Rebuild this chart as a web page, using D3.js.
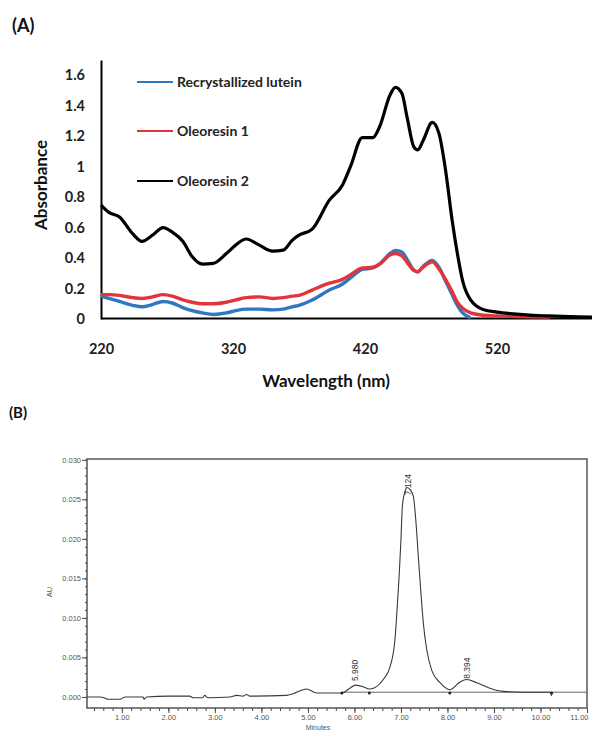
<!DOCTYPE html>
<html><head><meta charset="utf-8">
<script src="https://cdn.jsdelivr.net/npm/d3@7/dist/d3.min.js"></script>
<style>html,body{margin:0;padding:0;background:#fff;}svg{display:block;}</style>
</head><body>
<svg id="c" width="592" height="731"></svg>
<script>
// ---------- Panel A data ----------
const wavelengths = [220,226,234,244,251,259,267,274,282,289,297,305,315,322,330,340,350,358,365,370,380,393,403,409,418,426,431,439,443,448,452,457,460,464,471,476,481,486,490,494,500,510,520,530,545,560,575,592];
const oleoresin2 = [0.748,0.70,0.67,0.56,0.51,0.55,0.60,0.57,0.51,0.41,0.36,0.365,0.43,0.485,0.525,0.485,0.446,0.452,0.518,0.55,0.59,0.78,0.88,1.0,1.19,1.19,1.26,1.47,1.52,1.48,1.32,1.13,1.11,1.17,1.29,1.22,0.98,0.65,0.43,0.25,0.125,0.06,0.045,0.035,0.025,0.02,0.015,0.012];
const oleoresin1 = [0.16,0.16,0.155,0.14,0.135,0.145,0.16,0.15,0.125,0.11,0.10,0.10,0.11,0.125,0.14,0.145,0.135,0.14,0.15,0.155,0.19,0.235,0.26,0.29,0.335,0.34,0.36,0.42,0.43,0.415,0.37,0.32,0.31,0.34,0.375,0.33,0.26,0.18,0.11,0.07,0.04,0.025,0.02,0.018,0.015,0.012,null,null];
const lutein = [0.15,0.135,0.115,0.09,0.08,0.095,0.115,0.105,0.075,0.055,0.04,0.03,0.04,0.055,0.065,0.065,0.06,0.065,0.08,0.09,0.125,0.19,0.23,0.27,0.325,0.335,0.36,0.43,0.45,0.44,0.39,0.32,0.31,0.345,0.385,0.34,0.25,0.16,0.09,0.04,0.008,null,null,null,null,null,null,null];
const seriesNames = ["Recrystallized lutein","Oleoresin 1","Oleoresin 2"];
const seriesColors = ["#2f77c0","#e2343b","#000000"];
const yTicksA = [0,0.2,0.4,0.6,0.8,1,1.2,1.4,1.6];
const yTickLabelsA = ["0","0.2","0.4","0.6","0.8","1","1.2","1.4","1.6"];
const xTicksA = [220,320,420,520];

// ---------- Panel B data ----------
const retTimes = [0.25,0.53,0.62,0.70,0.96,1.07,1.46,1.475,1.53,2.0,2.46,2.53,2.74,2.78,2.85,3.32,3.47,3.60,3.68,3.75,4.54,4.68,4.97,5.19,5.54,5.73,5.90,6.02,6.19,6.32,6.41,6.62,6.765,6.87,6.92,6.965,7.00,7.03,7.087,7.13,7.20,7.266,7.324,7.373,7.425,7.48,7.554,7.66,7.84,8.05,8.27,8.41,8.63,8.91,9.20,9.63,10.0,10.20,10.24];
const auValues = [0.0000,0.0000,-0.0001,-0.0003,-0.0003,0.0000,0.0000,-0.0003,0.0000,0.0001,0.0001,-0.0001,-0.0001,0.0002,-0.0001,0.0000,0.0002,0.0001,0.0003,0.0001,0.0002,0.0004,0.0010,0.0005,0.0005,0.0005,0.0011,0.0015,0.0013,0.0010,0.0011,0.0022,0.0038,0.0072,0.0114,0.0157,0.0199,0.0241,0.0260,0.0265,0.0262,0.0254,0.0220,0.0178,0.0135,0.0094,0.0060,0.0034,0.0018,0.0009,0.0019,0.0022,0.0018,0.0011,0.0007,0.0006,0.0006,0.0006,0.0001];
const baselineTimes = [5.73,11.0];
const baselineAU = [0.0006,0.0006];
const markTimes = [5.73,6.32,8.05,10.24];
const peakTimes = [5.98,7.124,8.394];
const peakLabels = ["5.980","7.124","8.394"];
const peakLabelAU = [0.0020,0.0255,0.0023];
const yTicksB = [0,0.005,0.010,0.015,0.020,0.025,0.030];
const xTicksB = [1,2,3,4,5,6,7,8,9,10,11];

const svg = d3.select("#c");
svg.append("rect").attr("width",592).attr("height",731).attr("fill","#fff");

// ================= Panel A =================
const fA = "Lato, 'Open Sans', sans-serif";
const xA = d3.scaleLinear().domain([220,592]).range([101,592]);
const yA = d3.scaleLinear().domain([0,1.7]).range([319,60]);
const gA = svg.append("g");

gA.append("text").attr("x",12).attr("y",32).attr("font-family",fA).attr("font-weight","bold")
  .attr("font-size",18).attr("fill","#111").text("(A)");

const yAxisA = d3.axisLeft(yA).tickValues(yTicksA).tickSize(0).tickSizeOuter(0).tickPadding(16)
  .tickFormat((d,i)=>yTickLabelsA[i]);
const gy = gA.append("g").attr("transform","translate(101,0)").call(yAxisA);
gy.select(".domain").attr("stroke","#000").attr("stroke-width",2);
gy.selectAll("text").attr("font-family",fA).attr("font-weight","bold").attr("font-size",14.5).attr("fill","#222");

const xAxisA = d3.axisBottom(xA).tickValues(xTicksA).tickSize(0).tickSizeOuter(0).tickPadding(26)
  .tickFormat(d3.format("d"));
const gx = gA.append("g").attr("transform","translate(0,318)").call(xAxisA);
gx.select(".domain").attr("stroke","#000").attr("stroke-width",2);
gx.selectAll("text").attr("font-family",fA).attr("font-weight","bold").attr("font-size",14.5).attr("fill","#222");

gA.append("text").attr("transform","translate(47,185) rotate(-90)").attr("text-anchor","middle")
  .attr("font-family",fA).attr("font-weight","bold").attr("font-size",17).attr("fill","#111").text("Absorbance");
gA.append("text").attr("x",326).attr("y",387).attr("text-anchor","middle")
  .attr("font-family",fA).attr("font-weight","bold").attr("font-size",17).attr("fill","#111").text("Wavelength (nm)");

const seriesVals = [lutein, oleoresin1, oleoresin2];
const lineA = d3.line().defined(d=>d[1]!==null).x(d=>xA(d[0])).y(d=>yA(d[1])).curve(d3.curveMonotoneX);
seriesVals.forEach((vals,si)=>{
  const pts = wavelengths.map((w,i)=>[w,vals[i]]);
  gA.append("path").datum(pts).attr("d",lineA).attr("fill","none")
    .attr("stroke",seriesColors[si]).attr("stroke-width",si===2?3.2:3.4).attr("stroke-linejoin","round");
});

// legend
const legY = [82,131,181];
seriesNames.forEach((n,i)=>{
  gA.append("line").attr("x1",137).attr("x2",173).attr("y1",legY[i]).attr("y2",legY[i])
    .attr("stroke",seriesColors[i]).attr("stroke-width",2);
  gA.append("text").attr("x",177).attr("y",legY[i]+5).attr("font-family",fA).attr("font-weight","bold")
    .attr("font-size",14).attr("fill","#222").text(n);
});

// ================= Panel B =================
const fB = "'Liberation Sans', Arial, sans-serif";
const xB = d3.scaleLinear().domain([0.25,11.0]).range([87,587]);
const yB = d3.scaleLinear().domain([-0.0014,0.0301]).range([708,459]);
const gB = svg.append("g");
const cB = "#4a4a4a";

gB.append("text").attr("x",9).attr("y",418).attr("font-family",fA).attr("font-weight","bold")
  .attr("font-size",15).attr("fill","#111").text("(B)");

// frame
gB.append("rect").attr("x",xB.range()[0]).attr("y",yB.range()[1])
  .attr("width",xB.range()[1]-xB.range()[0]).attr("height",yB.range()[0]-yB.range()[1])
  .attr("fill","none").attr("stroke",cB).attr("stroke-width",1.4);

// y axis minor + major
const gyBm = gB.append("g").attr("transform","translate(87,0)")
  .call(d3.axisLeft(yB).tickValues(d3.range(0,31).map(i=>i*0.001)).tickSize(2).tickFormat(""));
gyBm.select(".domain").remove();
const gyB = gB.append("g").attr("transform","translate(87,0)")
  .call(d3.axisLeft(yB).tickValues(yTicksB).tickSize(5).tickPadding(1).tickFormat(d3.format(".3f")));
gyB.select(".domain").remove();
[gyBm,gyB].forEach(g=>g.selectAll("line").attr("stroke",cB).attr("stroke-width",1));
gyB.selectAll("text").attr("font-family",fB).attr("font-size",7.5).attr("fill","#555");

// x axis minor + major
const gxBm = gB.append("g").attr("transform","translate(0,708)")
  .call(d3.axisBottom(xB).tickValues(d3.range(2,55).map(i=>i*0.2)).tickSize(3).tickFormat(""));
gxBm.select(".domain").remove();
const gxB = gB.append("g").attr("transform","translate(0,708)")
  .call(d3.axisBottom(xB).tickValues(xTicksB).tickSize(5).tickPadding(2).tickFormat(d3.format(".2f")));
gxB.select(".domain").remove();
[gxBm,gxB].forEach(g=>g.selectAll("line").attr("stroke",cB).attr("stroke-width",1));
gxB.selectAll("text").attr("font-family",fB).attr("font-size",7.5).attr("fill","#555");
gxB.selectAll(".tick").filter(d=>d===11).select("text").attr("text-anchor","end").attr("dx",1);

gB.append("text").attr("transform","translate(52,592) rotate(-90)").attr("text-anchor","middle")
  .attr("font-family",fB).attr("font-size",7.5).attr("fill","#555").text("AU");
gB.append("text").attr("x",318).attr("y",730).attr("text-anchor","middle")
  .attr("font-family",fB).attr("font-size",7).attr("fill","#555").text("Minutes");

// baseline
const lineB = d3.line().x(d=>xB(d[0])).y(d=>yB(d[1]));
gB.append("path").datum(baselineTimes.map((t,i)=>[t,baselineAU[i]])).attr("d",lineB)
  .attr("fill","none").attr("stroke","#666").attr("stroke-width",1);
// trace
const lineTrace = d3.line().x(d=>xB(d[0])).y(d=>yB(d[1])).curve(d3.curveMonotoneX);
gB.append("path").datum(retTimes.map((t,i)=>[t,auValues[i]])).attr("d",lineTrace)
  .attr("fill","none").attr("stroke","#3a3a3a").attr("stroke-width",1.1);
// integration marks
gB.selectAll(".mk").data(markTimes).enter().append("circle")
  .attr("cx",d=>xB(d)).attr("cy",yB(0.0005)).attr("r",1.5).attr("fill","#222");
// peak labels
peakTimes.forEach((t,i)=>{
  gB.append("text").attr("transform",`translate(${xB(t)+1},${yB(peakLabelAU[i])}) rotate(-90)`)
    .attr("dominant-baseline","central").attr("font-family",fB).attr("font-size",8.5)
    .attr("fill","#333").text(peakLabels[i]);
});
</script>
</body></html>
